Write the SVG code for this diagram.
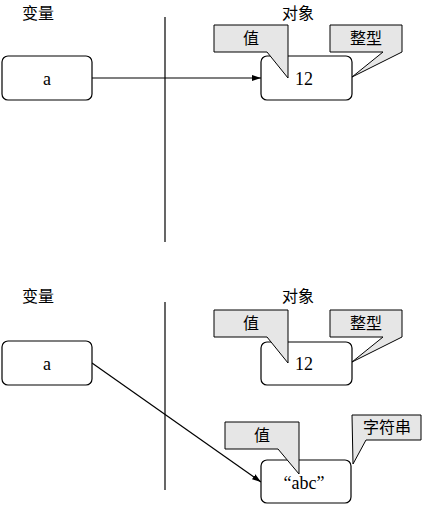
<svg xmlns="http://www.w3.org/2000/svg" width="430" height="506" viewBox="0 0 430 506">
<style>
.box{fill:#fff;stroke:#000;stroke-width:1.2}
.call{fill:#e6e6e6;stroke:#000;stroke-width:1}
.ln{stroke:#000;stroke-width:1.2;fill:none}
.t{font-family:"Liberation Serif","Noto Sans CJK SC",serif;font-size:18px;text-anchor:middle;fill:#000}
.c{font-family:"Noto Sans CJK SC",sans-serif;font-size:16px;text-anchor:middle;fill:#000}
</style>
<defs>
<marker id="ah" markerWidth="10" markerHeight="8" refX="9" refY="4" orient="auto" markerUnits="userSpaceOnUse">
<path d="M0,1 L9,4 L0,7 Z" fill="#000"/>
</marker>
</defs>
<rect width="430" height="506" fill="#fff"/>
<g id="labels">
<text class="c" x="38" y="19">变量</text>
<text class="c" x="298" y="19">对象</text>
<text class="c" x="38" y="302">变量</text>
<text class="c" x="298" y="302">对象</text>
</g>
<g id="dividers">
<line class="ln" x1="165" y1="17" x2="165" y2="242"/>
<line class="ln" x1="165" y1="302" x2="165" y2="490"/>
</g>
<g id="connectors">
<line class="ln" x1="92" y1="78" x2="261" y2="78" marker-end="url(#ah)"/>
<line class="ln" x1="92" y1="363" x2="261" y2="482" marker-end="url(#ah)"/>
</g>
<g id="var-a-top">
<rect class="box" x="2" y="56" width="90" height="44" rx="6"/>
<text class="t" x="47" y="85">a</text>
</g>
<g id="obj-12-top">
<rect class="box" x="261" y="56" width="91" height="44" rx="6"/>
<text class="t" x="304" y="85">12</text>
</g>
<g id="call-value-top">
<polygon class="call" points="214,25 288,25 288,78 267,52 214,52"/>
<text class="c" x="251" y="44">值</text>
</g>
<g id="call-int-top">
<polygon class="call" points="330,25 402,25 402,52 352,77 383,52 330,52"/>
<text class="c" x="366" y="44">整型</text>
</g>
<g id="var-a-bottom">
<rect class="box" x="2" y="341" width="90" height="44" rx="6"/>
<text class="t" x="47" y="370">a</text>
</g>
<g id="obj-12-bottom">
<rect class="box" x="261" y="342" width="91" height="43" rx="6"/>
<text class="t" x="304" y="370">12</text>
</g>
<g id="call-value-mid">
<polygon class="call" points="214,310 288,310 288,363 267,337 214,337"/>
<text class="c" x="251" y="329">值</text>
</g>
<g id="call-int-mid">
<polygon class="call" points="330,310 402,310 402,337 352,362 383,337 330,337"/>
<text class="c" x="366" y="329">整型</text>
</g>
<g id="obj-abc">
<rect class="box" x="261" y="460" width="90" height="43" rx="6"/>
<text class="t" x="304" y="489">“abc”</text>
</g>
<g id="call-value-bottom">
<polygon class="call" points="225,422 299,422 299,474 278,449 225,449"/>
<text class="c" x="262" y="441">值</text>
</g>
<g id="call-str">
<polygon class="call" points="352,415 421,415 421,440 366,440 353,464"/>
<text class="c" x="387" y="433">字符串</text>
</g>
</svg>
